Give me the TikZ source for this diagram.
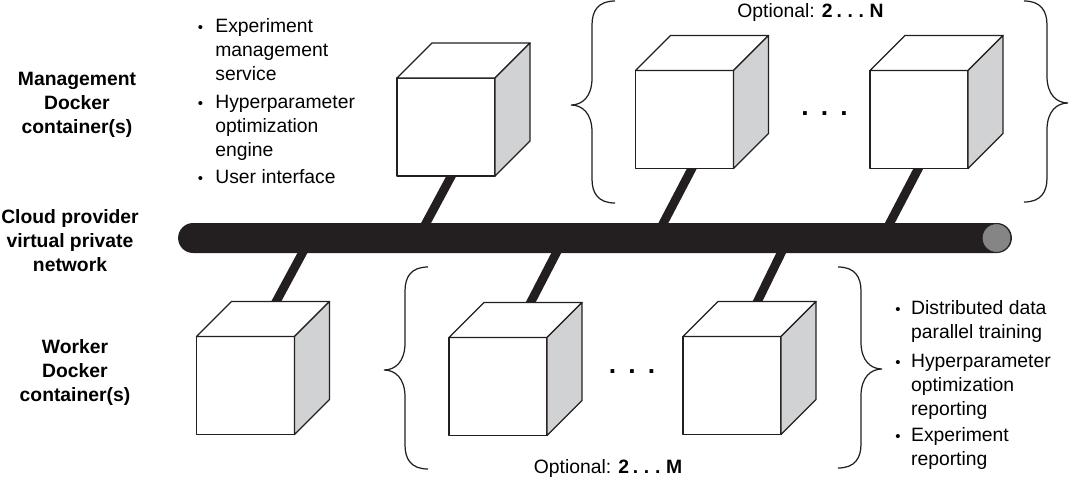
\documentclass[tikz,border=0pt]{standalone}
\usepackage{fontspec}
\setmainfont{Liberation Sans}
\usetikzlibrary{calc,positioning}
\definecolor{inkblack}{HTML}{231F20}
\definecolor{sidegray}{HTML}{D1D2D4}
\definecolor{endgray}{HTML}{858585}
\pgfdeclarelayer{background}
\pgfsetlayers{background,main}
\newcommand{\dotspacing}{\spaceskip=5.5pt\relax}
\tikzset{
    cubeface/.style={draw=inkblack,line width=0.75pt,fill=white,minimum size=1.96cm,inner sep=0pt,outer sep=0pt,line join=round},
    cubeline/.style={draw=inkblack,line width=0.75pt,line join=round},
    stub/.style={draw=inkblack,line width=0.176cm},
    curly/.style={draw=inkblack,line width=0.7pt},
    plain/.style={font=\fontsize{11}{13.66}\selectfont,align=center,inner sep=0pt},
    heading/.style={plain,font=\fontsize{11}{13.66}\selectfont\bfseries},
    dots/.style={font=\fontsize{15}{15}\selectfont\bfseries\dotspacing,anchor=base,inner sep=0pt},
}
% front face as a node, top and side faces hung on its corners
\newcommand{\cubebox}[2]{
    \node[cubeface] (#1) at (#2) {};
    \draw[cubeline,fill=white] (#1.north west) -- ++(35,-35) -- ++(98,0) -- (#1.north east) -- cycle;
    \draw[cubeline,fill=sidegray] (#1.north east) -- ++(35,-35) -- ++(0,98) -- (#1.south east) -- cycle;
}
\newcommand{\smallbullet}{{\fontsize{8.5}{8.5}\selectfont\textbullet}}
\begin{document}
\begin{tikzpicture}[x=0.02cm,y=-0.02cm]
    \useasboundingbox (0,0) rectangle (1069,478);

    % Bus
    \node[fill=inkblack,rounded corners=0.3cm,minimum width=16.68cm,minimum height=0.6cm,inner sep=0pt] (bus) at (595,238) {};
    \node[circle,fill=endgray,draw=inkblack,line width=0.3pt,minimum size=0.57cm,inner sep=0pt] (busend) at (996.5,238) {};

    % Cubes
    \cubebox{mgmtA}{446,127}
    \cubebox{mgmtB}{684.5,119.5}
    \cubebox{mgmtN}{919,119.5}
    \cubebox{workA}{245.5,385.5}
    \cubebox{workB}{498,386.5}
    \cubebox{workM}{732,385.5}

    % Links to the bus
    \begin{pgfonlayer}{background}
        \draw[stub] ($(mgmtA.south)+(8,-5)$) -- ($(mgmtA.south |- bus.center)+(-28,0)$);
        \draw[stub] ($(mgmtB.south)+(10,-5)$) -- ($(mgmtB.south |- bus.center)+(-29,0)$);
        \draw[stub] ($(mgmtN.south)+(2,-5)$) -- ($(mgmtN.south |- bus.center)+(-37,0)$);
        \draw[stub] ($(workA.north)+(28,-30)$) -- ($(workA.north |- bus.center)+(65,0)$);
        \draw[stub] ($(workB.north)+(30,-30)$) -- ($(workB.north |- bus.center)+(66,0)$);
        \draw[stub] ($(workM.north)+(23,-30)$) -- ($(workM.north |- bus.center)+(56.5,0)$);
    \end{pgfonlayer}

    % Braces
    \foreach \tipx/\dir/\ytop/\ymid/\ybot in {571/1/1/105/203, 1068/-1/1/103/202, 384/1/267/370/469, 882/-1/267/369/468}
        \draw[curly] ({\tipx+44*\dir},\ytop) .. controls ({\tipx+27*\dir},\ytop) and ({\tipx+21*\dir},{\ytop+10}) .. ({\tipx+21*\dir},{\ytop+24})
            -- ({\tipx+21*\dir},{\ymid-27}) .. controls ({\tipx+21*\dir},{\ymid-8}) and ({\tipx+11*\dir},\ymid) .. (\tipx,\ymid)
            .. controls ({\tipx+11*\dir},\ymid) and ({\tipx+21*\dir},{\ymid+8}) .. ({\tipx+21*\dir},{\ymid+27})
            -- ({\tipx+21*\dir},{\ybot-24}) .. controls ({\tipx+21*\dir},{\ybot-10}) and ({\tipx+27*\dir},\ybot) .. ({\tipx+44*\dir},\ybot);

    % Row labels
    \node[heading] (mgmtlabel) at (77,104.5) {Management\\Docker\\container(s)};
    \node[heading] (buslabel) at (70,240.5) {Cloud provider\\virtual private\\network};
    \node[heading] (worklabel) at (75,372.5) {Worker\\Docker\\container(s)};

    % Bullet lists
    \node[plain,anchor=north west] (mgmtlist) at (197.5,15.5) {\begin{tabular}{@{}l@{\hspace{7pt}}l@{}}
        \smallbullet & Experiment\\
        & management\\
        & service\\[2pt]
        \smallbullet & Hyperparameter\\
        & optimization\\
        & engine\\[2pt]
        \smallbullet & User interface
    \end{tabular}};
    \node[plain,anchor=north west] (worklist) at (895,297) {\begin{tabular}{@{}l@{\hspace{6pt}}l@{}}
        \smallbullet & Distributed data\\
        & parallel training\\[2.8pt]
        \smallbullet & Hyperparameter\\
        & optimization\\
        & reporting\\[1.1pt]
        \smallbullet & Experiment\\
        & reporting
    \end{tabular}};

    % Optional counts
    \node[plain] (mgmtopt) at (810.5,12) {Optional: \textbf{\spaceskip=0.2em 2 . . . N}};
    \node[plain] (workopt) at (608,468) {Optional: \textbf{\spaceskip=0.2em 2 . . . M}};
    \node[dots] (mgmtdots) at (824.5,115) {. . .};
    \node[dots] (workdots) at (632,373) {. . .};
\end{tikzpicture}
\end{document}
